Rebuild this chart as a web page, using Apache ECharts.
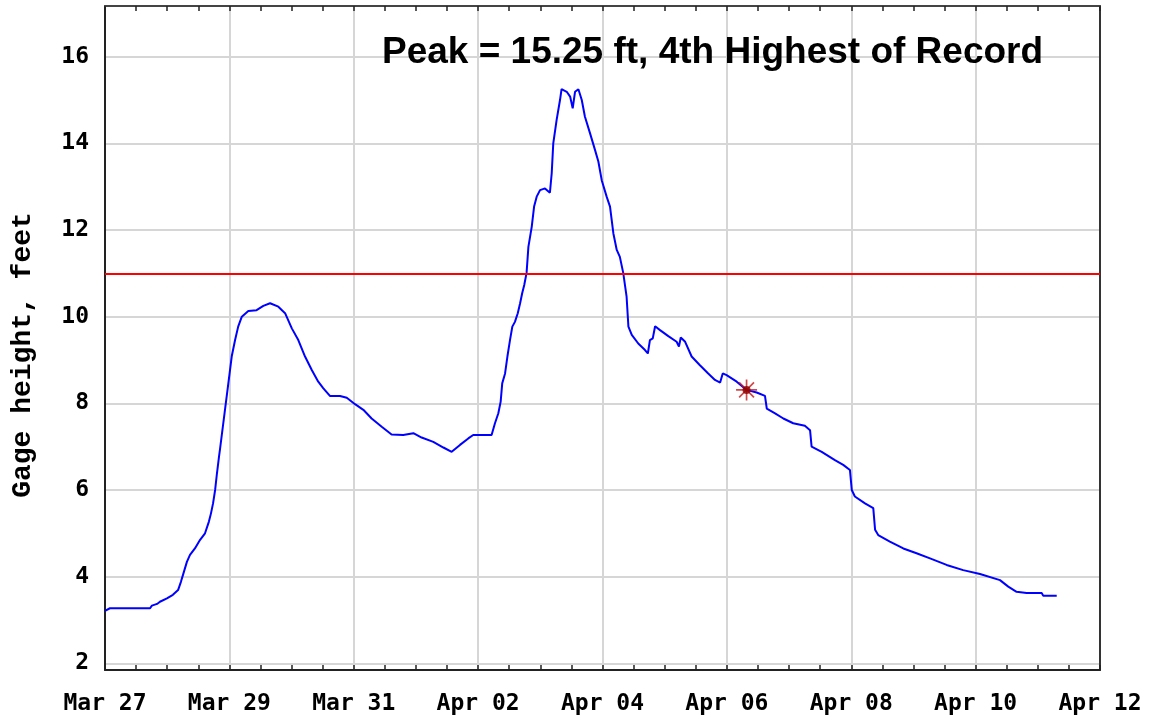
<!DOCTYPE html>
<html>
<head>
<meta charset="utf-8">
<script src="https://cdn.jsdelivr.net/npm/echarts@6/dist/echarts.min.js"></script>
<style>html,body{margin:0;padding:0;background:#fff}#c{width:1151px;height:719px}</style>
</head>
<body>
<div id="c"></div>
<script>
// Hours since Mar 27 00:00
var hours = [0,1.9,17.4,18.1,20.1,21.2,23.9,26.2,28.2,29.3,30.1,31.6,32.8,34.7,36.7,38.6,40.1,40.9,41.7,42.5,43.2,44.0,44.4,46.3,47.6,48.9,50.2,51.4,52.8,55.3,58.5,61.1,63.7,66.9,69.5,72.1,74.6,77.2,79.8,82.3,84.2,86.8,90.7,93.3,96.5,99.7,102.9,106.8,110.6,115.1,119.0,122.2,126.7,130.6,133.8,137.0,140.2,142.1,149.2,150.5,151.8,152.7,153.3,154.4,155.3,156.3,157.2,158.2,159.3,160.2,161.0,161.8,162.7,163.4,164.7,165.6,166.6,167.9,169.8,171.7,172.4,173.0,174.3,175.6,176.2,178.2,179.5,180.5,181.4,182.7,184.0,185.2,187.2,189.1,190.4,191.7,193.6,194.9,196.2,197.5,198.7,200.0,201.3,202.0,203.3,205.8,208.4,209.5,210.3,211.4,212.3,214.2,217.4,220.6,221.5,222.2,223.9,226.4,229.6,232.8,235.4,237.4,238.4,239.9,243.8,247.6,251.5,254.7,255.4,258.6,261.8,265.6,270.1,272.1,272.7,276.6,281.7,284.9,287.5,288.2,289.4,293.3,296.5,297.2,298.4,302.9,308.1,313.2,318.4,324.8,331.2,337.7,345.4,348.6,351.8,355.7,361.5,362.1,367.3];
// Gage height, feet
var stage = [3.21,3.27,3.27,3.33,3.37,3.42,3.50,3.58,3.69,3.88,4.04,4.34,4.50,4.65,4.85,5.00,5.27,5.46,5.69,6.00,6.38,6.77,6.95,7.85,8.46,9.08,9.46,9.77,10.0,10.13,10.15,10.25,10.31,10.23,10.08,9.73,9.46,9.08,8.77,8.50,8.35,8.17,8.17,8.13,7.98,7.85,7.65,7.46,7.28,7.27,7.31,7.21,7.11,6.98,6.88,7.04,7.19,7.27,7.27,7.54,7.77,8.04,8.46,8.69,9.08,9.46,9.77,9.88,10.08,10.31,10.54,10.73,11.01,11.61,12.08,12.54,12.77,12.92,12.96,12.86,13.31,14.0,14.54,15.0,15.25,15.19,15.08,14.81,15.19,15.25,15.0,14.62,14.23,13.85,13.58,13.15,12.77,12.54,11.92,11.54,11.38,11.01,10.46,9.77,9.58,9.38,9.23,9.15,9.46,9.50,9.78,9.69,9.55,9.42,9.31,9.52,9.42,9.08,8.88,8.69,8.54,8.48,8.69,8.65,8.50,8.31,8.25,8.17,7.88,7.77,7.65,7.54,7.48,7.38,7.0,6.88,6.69,6.58,6.46,6.0,5.85,5.69,5.58,5.08,4.96,4.81,4.65,4.54,4.42,4.27,4.15,4.06,3.92,3.77,3.65,3.62,3.62,3.56,3.56];
var xTickLabels = ['Mar 27','Mar 29','Mar 31','Apr 02','Apr 04','Apr 06','Apr 08','Apr 10','Apr 12'];
var yTickValues = [2,4,6,8,10,12,14,16];
var floodStage = [11];
var marker = [[247.6, 8.31]];
var titleText = 'Peak = 15.25 ft, 4th Highest of Record';
var yName = 'Gage height, feet';

var data = hours.map(function(h, i){ return [h, stage[i]]; });
var monoFont = '"DejaVu Sans Mono", "Liberation Mono", monospace';
var plusPath = 'path://M9.2,0 L10.8,0 L10.8,20 L9.2,20 Z M0,9.2 L20,9.2 L20,10.8 L0,10.8 Z';

var chart = echarts.init(document.getElementById('c'), null, {renderer: 'canvas'});
chart.setOption({
  animation: false,
  backgroundColor: '#ffffff',
  title: {
    text: titleText, left: 377, top: 29,
    textStyle: {fontFamily: '"Liberation Sans", Arial, sans-serif', fontWeight: 'bold', fontSize: 37, color: '#000'}
  },
  grid: {left: 105, right: 51, top: 6, bottom: 49},
  xAxis: [{
    type: 'value', min: 0, max: 384, interval: 48, position: 'bottom',
    axisLine: {show: true, onZero: false, lineStyle: {color: '#222', width: 2}},
    axisTick: {show: true, inside: true, length: 5, lineStyle: {color: '#222', width: 1.5}},
    minorTick: {show: true, splitNumber: 4, length: 5, lineStyle: {color: '#222', width: 1.5}},
    axisLabel: {
      margin: 23, fontFamily: monoFont, fontWeight: 'bold', fontSize: 23, color: '#000',
      formatter: function(v){ return xTickLabels[Math.round(v/48)] || ''; }
    },
    splitLine: {show: true, lineStyle: {color: '#d6d6d6', width: 2}}
  }, {
    type: 'value', min: 0, max: 384, interval: 48, position: 'top',
    axisLine: {show: true, onZero: false, lineStyle: {color: '#444', width: 2}},
    axisTick: {show: true, inside: true, length: 5, lineStyle: {color: '#222', width: 1.5}},
    minorTick: {show: true, splitNumber: 4, length: 5, lineStyle: {color: '#222', width: 1.5}},
    axisLabel: {show: false},
    splitLine: {show: false}
  }],
  yAxis: [{
    type: 'value', min: 1.845, max: 17.17, position: 'left',
    name: yName, nameLocation: 'middle', nameRotate: 90, nameGap: 68,
    nameTextStyle: {fontFamily: '"Liberation Mono", "DejaVu Sans Mono", monospace', fontWeight: 'bold', fontSize: 28, color: '#000', padding: [0, 34, 0, 0]},
    axisLine: {show: true, onZero: false, lineStyle: {color: '#222', width: 2}},
    axisTick: {show: false, customValues: yTickValues},
    axisLabel: {customValues: yTickValues, margin: 16, fontFamily: monoFont, fontWeight: 'bold', fontSize: 23, color: '#000'},
    splitLine: {show: true, lineStyle: {color: '#d6d6d6', width: 2}}
  }, {
    type: 'value', min: 1.845, max: 17.17, position: 'right',
    axisLine: {show: true, onZero: false, lineStyle: {color: '#333', width: 2}},
    axisTick: {show: false}, axisLabel: {show: false}, splitLine: {show: false}
  }],
  series: [{
    type: 'line', data: data, showSymbol: false, symbol: 'none',
    lineStyle: {color: '#0000ff', width: 2},
    markLine: {
      silent: true, symbol: 'none', label: {show: false},
      lineStyle: {color: '#ff0000', width: 2, type: 'solid'},
      data: floodStage.map(function(v){ return {yAxis: v}; })
    },
    z: 3
  }, {
    type: 'scatter', data: marker, symbol: plusPath, symbolSize: 21,
    itemStyle: {color: '#c41a1a'}, z: 4
  }, {
    type: 'scatter', data: marker, symbol: plusPath, symbolSize: 21, symbolRotate: 45,
    itemStyle: {color: '#c41a1a'}, z: 4
  }, {
    type: 'scatter', data: marker, symbol: 'circle', symbolSize: 8,
    itemStyle: {color: '#8b0000'}, z: 5
  }]
});
</script>
</body>
</html>
